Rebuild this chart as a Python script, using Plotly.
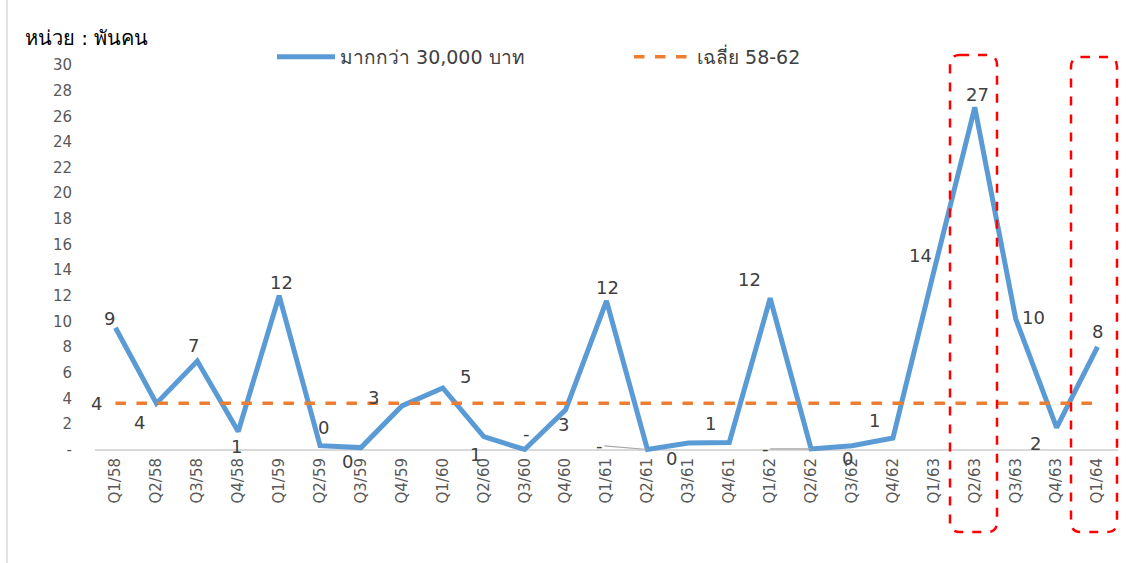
import plotly.graph_objects as go

categories = ["Q1/58", "Q2/58", "Q3/58", "Q4/58", "Q1/59", "Q2/59", "Q3/59", "Q4/59",
              "Q1/60", "Q2/60", "Q3/60", "Q4/60", "Q1/61", "Q2/61", "Q3/61", "Q4/61",
              "Q1/62", "Q2/62", "Q3/62", "Q4/62", "Q1/63", "Q2/63", "Q3/63", "Q4/63", "Q1/64"]
over_30000 = [9.5, 3.6, 6.9, 1.4, 12.0, 0.3, 0.15, 3.4,
              4.8, 1.0, 0.0, 3.1, 11.6, 0.0, 0.5, 0.55,
              11.8, 0.05, 0.3, 0.9, 13.9, 26.7, 10.2, 1.7, 8.0]
value_labels = ["9", "4", "7", "1", "12", "0", "0", "3",
                "5", "1", "-", "3", "12", "-", "0", "1",
                "12", "-", "0", "1", "14", "27", "10", "2", "8"]
avg_58_62 = [3.6, 3.6, 3.6, 3.6, 3.6, 3.6, 3.6, 3.6, 3.6, 3.6, 3.6, 3.6, 3.6,
             3.6, 3.6, 3.6, 3.6, 3.6, 3.6, 3.6, 3.6, 3.6, 3.6, 3.6, 3.6]
avg_label = "4"
y_tickvals = [0, 2, 4, 6, 8, 10, 12, 14, 16, 18, 20, 22, 24, 26, 28, 30]
y_ticktext = ["-", "2", "4", "6", "8", "10", "12", "14", "16", "18", "20", "22", "24", "26", "28", "30"]

series_name = "มากกว่า 30,000 บาท"
avg_name = "เฉลี่ย 58-62"
unit_text = "หน่วย : พันคน"

FONT = "Tahoma, 'DejaVu Sans', 'Noto Sans', sans-serif"
W, H = 1141, 563
L, R, T, B = 95, 23, 65, 109
PW, PH = W - L - R, H - T - B

# label offsets (pixels) relative to the data point
label_offsets = [(-6, -9), (-17, 19), (-4, -16), (-2, 15), (2, -13), (3, -18), (-13, 14), (-28, -8),
                 (23, -11), (-8, 18), (2, -16), (-2, 15), (1, -13), (-48, 4), (-17, 15), (-19, -19),
                 (-21, -19), (-46, 0), (-5, 13), (-18, -17), (-13, -16), (3, -13), (18, -1), (-21, 16), (0, -15)]
leader_labels = {13, 17}
LABEL_FONT = dict(size=18, color="#404040", family=FONT)

fig = go.Figure()
fig.add_trace(go.Scatter(x=categories, y=over_30000, mode="lines", name=series_name,
                         line=dict(color="#5b9bd5", width=5)))
fig.add_trace(go.Scatter(x=categories, y=avg_58_62, mode="lines", name=avg_name,
                         line=dict(color="#ed7d31", width=3.5, dash="dash")))

annotations = []
for i, (c, v, t) in enumerate(zip(categories, over_30000, value_labels)):
    dx, dy = label_offsets[i]
    if i in leader_labels:
        annotations.append(dict(x=c, y=v, xref="x", yref="y", text=t, showarrow=True,
                                arrowhead=0, arrowwidth=1.2, arrowcolor="#a6a6a6",
                                ax=dx, ay=-dy, font=LABEL_FONT))
    else:
        annotations.append(dict(x=c, y=v, xref="x", yref="y", text=t, showarrow=False,
                                xshift=dx, yshift=-dy, font=LABEL_FONT))
annotations.append(dict(x=categories[0], y=avg_58_62[0], xref="x", yref="y", text=avg_label,
                        showarrow=False, xshift=-19, yshift=0, font=LABEL_FONT))

def px_to_paper_x(px):
    return (px - L) / PW

def px_to_paper_y(py):
    return (H - B - py) / PH

# red dashed rounded boxes around highlighted quarters
shapes = []
boxes = [(950, 997, 55, 532), (1071, 1117, 57, 532)]
r = 10
for (x0p, x1p, y0p, y1p) in boxes:
    x0, x1 = px_to_paper_x(x0p), px_to_paper_x(x1p)
    yt, yb = px_to_paper_y(y0p), px_to_paper_y(y1p)
    rx, ry = r / PW, r / PH
    path = (f"M {x0+rx},{yt} L {x1-rx},{yt} Q {x1},{yt} {x1},{yt-ry} "
            f"L {x1},{yb+ry} Q {x1},{yb} {x1-rx},{yb} L {x0+rx},{yb} "
            f"Q {x0},{yb} {x0},{yb+ry} L {x0},{yt-ry} Q {x0},{yt} {x0+rx},{yt} Z")
    shapes.append(dict(type="path", path=path, xref="paper", yref="paper",
                       line=dict(color="#ff0000", width=2.5, dash="dash")))
# chart-area left border
shapes.append(dict(type="line", xref="paper", yref="paper",
                   x0=px_to_paper_x(7), x1=px_to_paper_x(7),
                   y0=px_to_paper_y(0), y1=px_to_paper_y(563),
                   line=dict(color="#d9d9d9", width=1.5)))

fig.update_layout(
    width=W, height=H,
    margin=dict(l=L, r=R, t=T, b=B),
    paper_bgcolor="white", plot_bgcolor="white",
    font=dict(family=FONT, color="#595959"),
    title=dict(text=unit_text, x=25 / W, xanchor="left", xref="container",
               y=1 - 38 / H, yanchor="middle", yref="container",
               font=dict(size=20, color="#000000", family=FONT)),
    legend=dict(orientation="h", x=px_to_paper_x(272), xanchor="left",
                y=px_to_paper_y(57), yanchor="middle",
                font=dict(size=19, color="#404040", family=FONT),
                itemwidth=58, entrywidth=284, entrywidthmode="pixels",
                bgcolor="rgba(0,0,0,0)"),
    annotations=annotations,
    shapes=shapes,
    showlegend=True,
)
fig.update_xaxes(type="category", range=[-0.5, len(categories) - 0.5],
                 showgrid=False, showline=False, zeroline=False,
                 tickangle=-90, tickfont=dict(size=15, color="#595959", family=FONT),
                 ticks="")
fig.update_yaxes(range=[-0.35, 30], tickvals=y_tickvals, ticktext=y_ticktext,
                 showgrid=False, showline=False, zeroline=True,
                 zerolinecolor="#d9d9d9", zerolinewidth=1.5,
                 tickfont=dict(size=15, color="#595959", family=FONT),
                 ticks="", ticklabelstandoff=22)

fig.write_html("out.html", config={"displayModeBar": False},
               post_script="document.body.style.margin='0';")
